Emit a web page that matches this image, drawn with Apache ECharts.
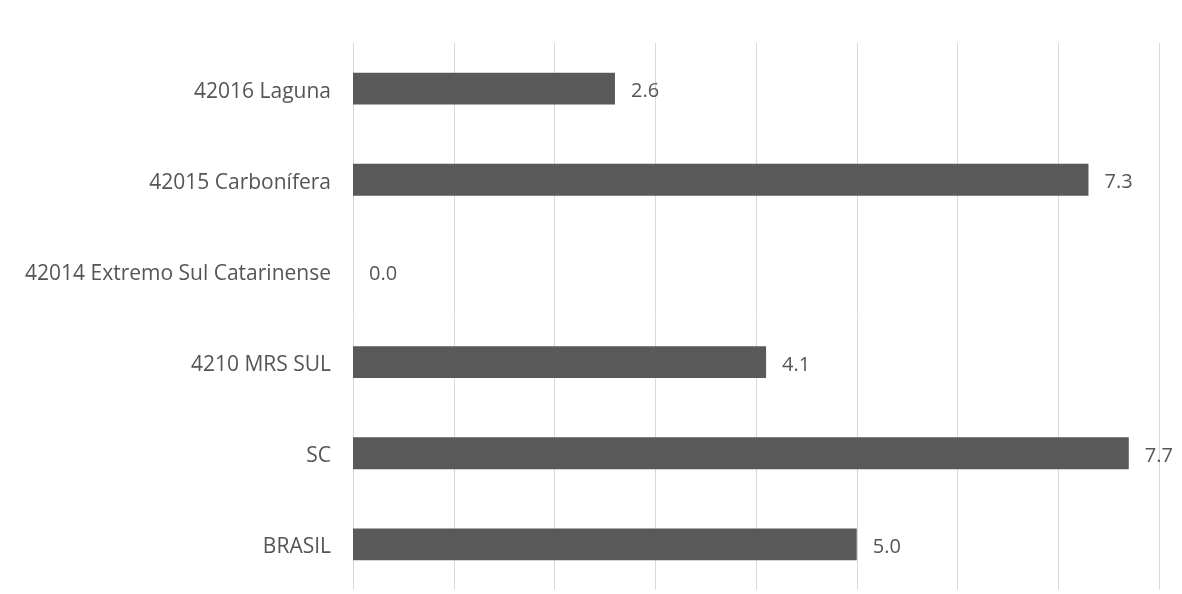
<!DOCTYPE html>
<html>
<head>
<meta charset="utf-8">
<script src="https://cdn.jsdelivr.net/npm/echarts@6/dist/echarts.min.js"></script>
<style>
  html, body { margin: 0; padding: 0; background: #ffffff; }
  #chart { width: 1182px; height: 594px; }
</style>
</head>
<body>
<div id="chart"></div>
<script>
// Regions, listed top to bottom
const categories = [
  '42016 Laguna',
  '42015 Carbonífera',
  '42014 Extremo Sul Catarinense',
  '4210 MRS SUL',
  'SC',
  'BRASIL'
];
const values = [2.6, 7.3, 0.0, 4.1, 7.7, 5.0];

const FONT = '"Open Sans", Lato, sans-serif';

const chart = echarts.init(document.getElementById('chart'));
chart.setOption({
  backgroundColor: '#ffffff',
  animation: false,
  grid: { left: 353, right: 23, top: 43, bottom: 4, containLabel: false },
  xAxis: {
    type: 'value',
    min: 0,
    max: 8,
    interval: 1,
    axisLabel: { show: false },
    axisLine: { show: false },
    axisTick: { show: false },
    splitLine: { show: true, lineStyle: { color: '#d9d9d9', width: 1 } }
  },
  yAxis: {
    type: 'category',
    inverse: true,
    data: categories,
    axisLine: { show: false },
    axisTick: { show: false },
    axisLabel: {
      margin: 22,
      color: '#555555',
      fontFamily: FONT,
      fontSize: 21,
      lineHeight: 30,
      verticalAlign: 'top',
      padding: [-12, 0, 0, 0]
    }
  },
  series: [{
    type: 'bar',
    data: values,
    barWidth: '35%',
    itemStyle: { color: '#595959' },
    label: {
      show: true,
      position: 'right',
      distance: 16,
      offset: [0, 3],
      color: '#555555',
      fontFamily: FONT,
      fontSize: 20,
      formatter: p => p.value.toFixed(1)
    }
  }]
});
</script>
</body>
</html>
